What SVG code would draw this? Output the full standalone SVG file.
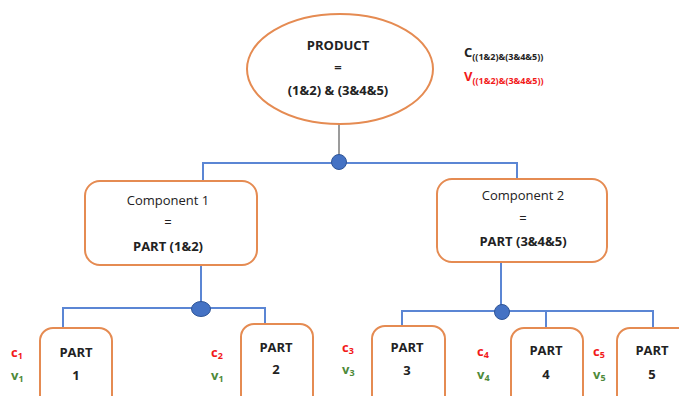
<svg xmlns="http://www.w3.org/2000/svg" width="679" height="396" viewBox="0 0 679 396">
  <style>
    .node { fill: #ffffff; stroke: #E58B52; stroke-width: 2; }
    .link { fill: none; stroke: #5B86D4; stroke-width: 2; }
    .stem { fill: none; stroke: #7a7a7a; stroke-width: 1.5; }
    .dot { fill: #4472C4; stroke: #2F5597; stroke-width: 1; }
    text { font-family: "Open Sans", "Liberation Sans", sans-serif; fill: #222222; text-anchor: middle; }
    .b { font-weight: bold; font-size: 13px; }
    .r { font-size: 13px; }
    .lab { font-weight: bold; font-size: 13px; text-anchor: start; }
    .sub { font-size: 9px; }
    .red { fill: #F21A1A; }
    .grn { fill: #4E8A3A; }
  </style>

  <!-- connectors -->
  <g id="connectors">
    <line class="stem" x1="339" y1="124" x2="339" y2="162"/>
    <polyline class="link" points="203,181 203,163 517,163 517,179"/>
    <line class="link" x1="201" y1="265" x2="201" y2="308"/>
    <polyline class="link" points="63,328 63,308 265,308 265,324"/>
    <line class="link" x1="501" y1="262" x2="501" y2="312"/>
    <polyline class="link" points="402,326 402,311 653,311 653,328"/>
    <line class="link" x1="546" y1="311" x2="546" y2="328"/>
    <circle class="dot" cx="339" cy="162" r="7.5"/>
    <ellipse class="dot" cx="201" cy="309" rx="9.5" ry="7.5"/>
    <circle class="dot" cx="502" cy="312" r="7.5"/>
  </g>

  <!-- root -->
  <g id="product">
    <ellipse class="node" cx="340" cy="69" rx="93" ry="55"/>
    <text class="b" x="338" y="50">PRODUCT</text>
    <text class="b" x="338" y="72">=</text>
    <text class="b" x="338" y="95">(1&amp;2) &amp; (3&amp;4&amp;5)</text>
  </g>

  <g id="product-labels">
    <text class="lab" x="464" y="57">C<tspan class="sub" dy="3">((1&amp;2)&amp;(3&amp;4&amp;5))</tspan></text>
    <text class="lab red" x="464" y="81">V<tspan class="sub" dy="3">((1&amp;2)&amp;(3&amp;4&amp;5))</tspan></text>
  </g>

  <g id="component1">
    <rect class="node" x="85" y="181" width="172" height="84" rx="15"/>
    <text class="r" x="168" y="205">Component 1</text>
    <text class="r" x="168" y="227">=</text>
    <text class="b" x="168" y="251">PART (1&amp;2)</text>
  </g>

  <g id="component2">
    <rect class="node" x="437" y="179" width="170" height="83" rx="15"/>
    <text class="r" x="523" y="200">Component 2</text>
    <text class="r" x="523" y="223">=</text>
    <text class="b" x="523" y="246">PART (3&amp;4&amp;5)</text>
  </g>

  <g id="part1">
    <rect class="node" x="40" y="328" width="72" height="80" rx="13"/>
    <text class="b" x="76" y="357">PART</text>
    <text class="b" x="76" y="380">1</text>
    <text class="lab red" x="11" y="357">c<tspan class="sub" dy="2">1</tspan></text>
    <text class="lab grn" x="11" y="380">v<tspan class="sub" dy="2">1</tspan></text>
  </g>

  <g id="part2">
    <rect class="node" x="241" y="324" width="72" height="84" rx="13"/>
    <text class="b" x="276" y="352">PART</text>
    <text class="b" x="276" y="374">2</text>
    <text class="lab red" x="211" y="357">c<tspan class="sub" dy="2">2</tspan></text>
    <text class="lab grn" x="211" y="380">v<tspan class="sub" dy="2">1</tspan></text>
  </g>

  <g id="part3">
    <rect class="node" x="372" y="326" width="73" height="82" rx="13"/>
    <text class="b" x="407" y="352">PART</text>
    <text class="b" x="407" y="375">3</text>
    <text class="lab red" x="342" y="352">c<tspan class="sub" dy="2">3</tspan></text>
    <text class="lab grn" x="342" y="374">v<tspan class="sub" dy="2">3</tspan></text>
  </g>

  <g id="part4">
    <rect class="node" x="511" y="328" width="72" height="80" rx="13"/>
    <text class="b" x="546" y="355">PART</text>
    <text class="b" x="546" y="379">4</text>
    <text class="lab red" x="477" y="356">c<tspan class="sub" dy="2">4</tspan></text>
    <text class="lab grn" x="477" y="379">v<tspan class="sub" dy="2">4</tspan></text>
  </g>

  <g id="part5">
    <rect class="node" x="617" y="328" width="80" height="80" rx="13"/>
    <text class="b" x="652" y="355">PART</text>
    <text class="b" x="652" y="379">5</text>
    <text class="lab red" x="593" y="356">c<tspan class="sub" dy="2">5</tspan></text>
    <text class="lab grn" x="593" y="379">v<tspan class="sub" dy="2">5</tspan></text>
  </g>
</svg>
